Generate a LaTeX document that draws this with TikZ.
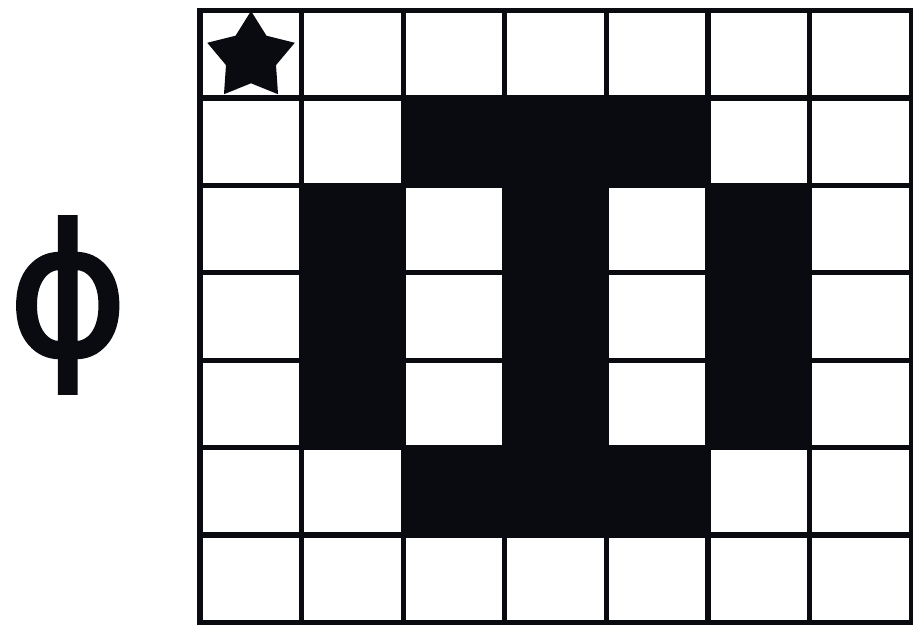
\documentclass[tikz,border=0pt]{standalone}
\usepackage{fontspec}
\newfontfamily\symfont{DejaVu Sans}[FakeBold=2]
\usetikzlibrary{shapes.geometric}
\definecolor{ink}{RGB}{10,11,16}

\begin{document}
\begin{tikzpicture}[
    x=1pt, y=-1pt,
    gridline/.style={ink, line width=5.2pt, line join=miter},
    cell/.style={fill=ink},
    marker/.style={star, star points=5, star point ratio=1.75, fill=ink,
        inner sep=0pt, minimum size=92pt}
]
\useasboundingbox (0,0) rectangle (913,624);
%
\node[text=ink, inner sep=0pt, font=\symfont\fontsize{182}{182}\selectfont]
    (phi) at (68,305) {ϕ};
%
\begin{scope}[shift={(200,10.5)}, x=101.6pt, y=-87.4pt]
\foreach \c/\r in {2/1,3/1,4/1, 1/2,3/2,5/2, 1/3,3/3,5/3, 1/4,3/4,5/4, 2/5,3/5,4/5}
    \fill[cell] (\c,\r) rectangle ++(1,1);
\foreach \i in {1,...,6} {
    \draw[gridline] (\i,0) -- (\i,7);
    \draw[gridline] (0,\i) -- (7,\i);
}
\draw[gridline] (0,0) rectangle (7,7);
\node[marker] (start) at (0.502,0.532) {};
\end{scope}
\end{tikzpicture}
\end{document}
